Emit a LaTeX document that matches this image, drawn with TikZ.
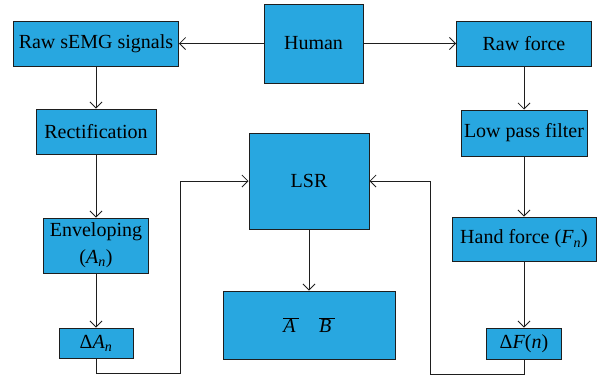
\documentclass[tikz,border=0pt]{standalone}
\usepackage{fontspec}
\setmainfont{Liberation Serif}
\usetikzlibrary{arrows.meta}
\definecolor{boxblue}{RGB}{40,167,224}
\definecolor{edge}{RGB}{30,30,30}
\tikzset{
  blk/.style={draw=edge, line width=1pt, fill=boxblue, inner sep=0pt, align=center,
    font=\fontsize{20}{27}\selectfont},
  arr/.style={draw=edge, line width=0.8pt, -{Straight Barb[length=6pt,width=12pt]}}
}
\begin{document}
\begin{tikzpicture}[x=1pt,y=-1pt]
\useasboundingbox (0,0) rectangle (605,376);
\node[blk, minimum width=99pt, minimum height=79pt] (human) at (313.5,43.5) {Human};
\node[blk, minimum width=165pt, minimum height=45pt] (raw) at (96,43.5) {Raw sEMG signals};
\node[blk, minimum width=135pt, minimum height=45pt] (force) at (524,43.5) {Raw force};
\node[blk, minimum width=120pt, minimum height=45pt] (rect) at (96,131.5) {Rectification};
\node[blk, minimum width=126pt, minimum height=46pt] (lpf) at (524,133) {Low pass filter};
\node[blk, minimum width=105pt, minimum height=55pt] (env) at (96,245.5) {Enveloping\\(\textit{A}\textsubscript{\textit{n}})};
\node[blk, minimum width=144pt, minimum height=44pt] (hand) at (524,239) {Hand force (\textit{F}\textsubscript{\textit{n}})};
\node[blk, minimum width=74pt, minimum height=30pt] (da) at (96,343) {Δ\textit{A}\textsubscript{\textit{n}}};
\node[blk, minimum width=75pt, minimum height=31pt] (df) at (524,343.5) {Δ\textit{F}(\textit{n})};
\node[blk, minimum width=120pt, minimum height=96pt] (lsr) at (309,181) {LSR};
\node[blk, minimum width=172pt, minimum height=68pt] (ab) at (309,325) {$\overline{\mbox{\textit{A}\,}}$\hspace{20pt}$\overline{\mbox{\textit{B}\,}}$};
\coordinate (la) at (180,373);
\coordinate (lb) at (180,181);
\coordinate (ra) at (430,374);
\coordinate (rb) at (430,181);
\draw[arr] (human.west) -- (raw.east);
\draw[arr] (human.east) -- (force.west);
\draw[arr] (raw.south) -- (rect.north);
\draw[arr] (rect.south) -- (env.north);
\draw[arr] (env.south) -- (da.north);
\draw[arr] (force.south) -- (lpf.north);
\draw[arr] (lpf.south) -- (hand.north);
\draw[arr] (hand.south) -- (df.north);
\draw[arr] (lsr.south) -- (ab.north);
\draw[arr] (da.south) -- (da.south |- la) -- (la) -- (lb) -- (lsr.west);
\draw[arr] (df.south) -- (df.south |- ra) -- (ra) -- (rb) -- (lsr.east);
\end{tikzpicture}
\end{document}
